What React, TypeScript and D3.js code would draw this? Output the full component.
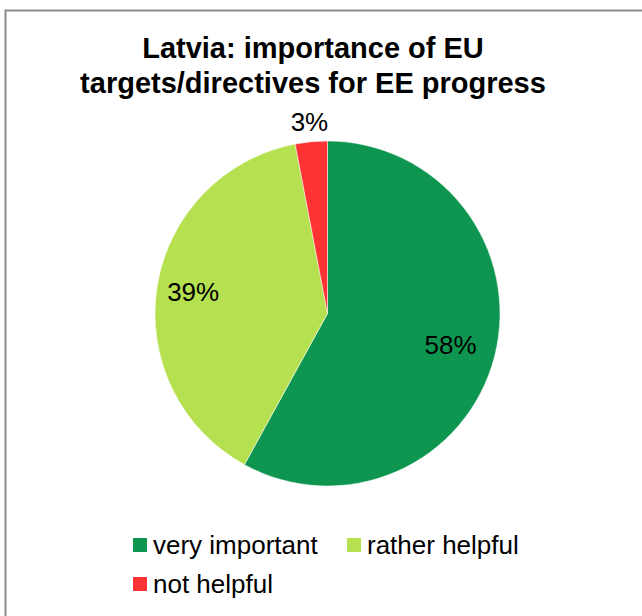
import * as d3 from "d3";

const width = 642,
  height = 616;

const categories = ["very important", "rather helpful", "not helpful"];
const values = [58, 39, 3];
const colors = ["#0E9650", "#B5E04F", "#FF3334"];
const titleLines = ["Latvia: importance of EU", "targets/directives for EE progress"];

export default function App() {
  const cx = 327.5,
    cy = 313.5,
    r = 172.5;
  const pie = d3.pie<number>().sort(null).value((d) => d);
  const arcs = pie(values);
  const arc = d3.arc<d3.PieArcDatum<number>>().innerRadius(0).outerRadius(r);
  // label radius per slice, roughly like Excel's best-fit
  const labelRadius = [127, 136, 192];
  const font = "Liberation Sans, Arial, sans-serif";

  return (
    <div style={{ position: "fixed", left: 0, top: 0 }}>
      <svg width={width} height={height} style={{ display: "block" }}>
        <rect x={0} y={0} width={width} height={height} fill="#fff" />
        <path
          d={`M5.5,${height} V10.5 H${width}`}
          fill="none"
          stroke="#8c8c8c"
          strokeWidth={2}
        />
        <g fontFamily={font} fontWeight="bold" fontSize={29} textAnchor="middle" fill="#000">
          {titleLines.map((t, i) => (
            <text key={i} x={313} y={58 + i * 35}>
              {t}
            </text>
          ))}
        </g>
        <g transform={`translate(${cx},${cy})`}>
          {arcs.map((a, i) => (
            <path key={i} d={arc(a) ?? ""} fill={colors[i]} stroke="#fff" strokeWidth={0.5} />
          ))}
          {arcs.map((a, i) => {
            const la = d3
              .arc<d3.PieArcDatum<number>>()
              .innerRadius(labelRadius[i])
              .outerRadius(labelRadius[i]);
            const [x, y] = la.centroid(a);
            return (
              <text
                key={i}
                x={x}
                y={y}
                dy="0.35em"
                textAnchor="middle"
                fontFamily={font}
                fontSize={26}
                fill="#000"
              >
                {`${values[i]}%`}
              </text>
            );
          })}
        </g>
        <g fontFamily={font} fontSize={26} fill="#000">
          {categories.map((c, i) => {
            const x = i === 1 ? 347 : 133;
            const y = i === 2 ? 584 : 545;
            return (
              <g key={c} transform={`translate(${x},${y})`}>
                <rect x={0} y={-7} width={14} height={14} fill={colors[i]} />
                <text x={20} y={0} dy="0.35em">
                  {c}
                </text>
              </g>
            );
          })}
        </g>
      </svg>
    </div>
  );
}
